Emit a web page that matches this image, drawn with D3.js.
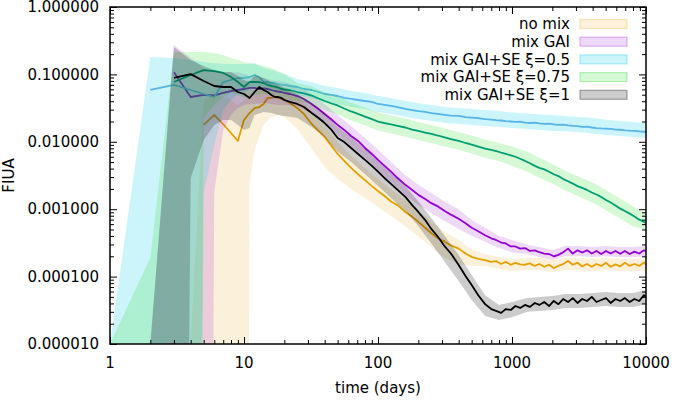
<!DOCTYPE html>
<html>
<head>
<meta charset="utf-8">
<script src="https://cdn.jsdelivr.net/npm/d3@7"></script>
<style>
  body { margin: 0; background: #fff; }
  svg text { font-family: "DejaVu Sans", sans-serif; font-size: 15px; fill: #000; }
</style>
</head>
<body>
<svg id="chart" width="673" height="402"></svg>
<script>
// days of the mean curves
const days = [1,2,3,4,5,6,7,8,9,10,11,12,13,14,15,16,17,18,19,20,
  22,25,28,32,36,40,45,50,56,63,71,80,90,100,112,125,140,160,180,200,225,250,280,315,350,400,450,500,560,630,700,
  760,830,900,980,1060,1150,1250,1360,1480,1600,1740,1890,2050,2220,2410,2620,2840,3080,3340,3630,3940,4270,4630,5030,5450,5920,6420,6960,7550,8200,8900,9650,10000];

const noMix = [null,null,null,null,0.0178,0.025,0.0182,0.0135,0.0103,0.0211,0.0267,0.0317,0.0328,0.0364,0.0447,0.0447,0.0462,0.0447,0.0432,0.0417,
  0.0377,0.0317,0.0259,0.0184,0.0145,0.0118,0.0087,0.0066,0.0052,0.0041,0.0033,0.0027,0.0022,0.00186,0.00157,0.0013,0.00115,0.00091,0.00077,0.00065,0.00053,0.00044,0.00037,0.00033,0.00029,0.00026,0.00022,0.000196,0.000183,0.000176,0.000165,
  0.00017,0.000154,0.000165,0.00015,0.00016,0.000152,0.00015,0.000157,0.000144,0.000154,0.00014,0.00015,0.000134,0.000144,0.000154,0.00017,0.00015,0.00016,0.000142,0.000154,0.00014,0.000154,0.000144,0.00016,0.00014,0.000152,0.000142,0.00016,0.000144,0.000154,0.000144,0.000162,0.00015];

const mixGai = [null,null,0.108,0.0462,0.0495,0.0487,0.053,0.0567,0.0587,0.0607,0.0629,0.0629,0.0607,0.0618,0.0607,0.0587,0.0567,0.0557,0.0548,0.053,
  0.0512,0.0478,0.0432,0.0364,0.0307,0.0259,0.0214,0.0178,0.015,0.0122,0.0103,0.0081,0.0066,0.0054,0.0044,0.0036,0.0029,0.0023,0.00193,0.00163,0.00142,0.00123,0.0011,0.00094,0.00083,0.00072,0.00062,0.00053,0.00047,0.00041,0.00037,
  0.00035,0.00032,0.00031,0.00028,0.00028,0.00026,0.000265,0.00024,0.000245,0.00023,0.00022,0.000216,0.0002,0.00021,0.00023,0.00026,0.00022,0.000245,0.000228,0.000245,0.00022,0.00024,0.000216,0.00024,0.00022,0.00024,0.000218,0.00024,0.000216,0.000235,0.00022,0.000245,0.00024];

const mixSe05 = [null,0.0587,0.0697,0.0587,0.0512,0.0462,0.0771,0.0826,0.0884,0.0884,0.0915,0.098,0.0915,0.0771,0.0771,0.0745,0.0745,0.072,0.0697,0.0697,
  0.0673,0.065,0.0607,0.0587,0.0548,0.0512,0.0495,0.0478,0.0447,0.0432,0.0417,0.0403,0.039,0.0364,0.0352,0.034,0.0328,0.0307,0.0296,0.0286,0.0277,0.0267,0.0259,0.025,0.0245,0.0242,0.0233,0.0229,0.0225,0.0217,0.0214,
  0.021,0.0207,0.0203,0.02,0.0197,0.0199,0.0193,0.019,0.0192,0.0187,0.0184,0.0186,0.0181,0.0178,0.018,0.0175,0.0172,0.0171,0.0166,0.0168,0.0163,0.016,0.0158,0.0157,0.0155,0.0152,0.0151,0.0148,0.0146,0.0145,0.0143,0.0141,0.014];

const mixSe075 = [null,null,0.0771,0.098,0.116,0.112,0.105,0.0915,0.0771,0.065,0.0771,0.0771,0.0771,0.0745,0.0697,0.0673,0.066,0.0638,0.0607,0.0597,
  0.0587,0.0548,0.0521,0.0486,0.0439,0.0403,0.037,0.0346,0.0312,0.0282,0.0259,0.0237,0.0217,0.02,0.019,0.0181,0.0172,0.0163,0.0152,0.0145,0.0137,0.0131,0.0124,0.0116,0.011,0.0103,0.0096,0.0091,0.0085,0.0079,0.0076,
  0.0073,0.0069,0.0066,0.0063,0.006,0.0056,0.0052,0.0048,0.0044,0.0041,0.0039,0.0036,0.0033,0.0031,0.0028,0.0026,0.0024,0.0022,0.00207,0.00193,0.00177,0.00165,0.00152,0.00137,0.00126,0.00113,0.00102,0.00094,0.00086,0.00078,0.0007,0.00065,0.00062];

const mixSe1 = [null,null,0.0885,0.101,0.0798,0.0673,0.065,0.065,0.0548,0.0512,0.0447,0.0548,0.065,0.0587,0.0548,0.0495,0.0462,0.0462,0.0447,0.0417,
  0.039,0.0364,0.0328,0.0267,0.0225,0.019,0.015,0.0114,0.0099,0.0081,0.0066,0.0054,0.0044,0.0036,0.0029,0.00237,0.00193,0.00152,0.00115,0.00091,0.00069,0.00051,0.00039,0.00028,0.00022,0.000149,0.000102,7.5e-5,5.3e-5,3.9e-5,3.3e-5,
  3.1e-5,2.9e-5,3.3e-5,3.2e-5,3.66e-5,3.43e-5,3.8e-5,3.55e-5,4.06e-5,3.8e-5,4.2e-5,3.66e-5,4.35e-5,3.9e-5,4.65e-5,4.2e-5,4.8e-5,4.06e-5,4.65e-5,4.35e-5,5e-5,4.2e-5,4.5e-5,4.8e-5,4.06e-5,4.65e-5,4.35e-5,4.8e-5,4.2e-5,4.65e-5,4.35e-5,5.3e-5,5e-5];

// days of the spread bands (lower / upper), 0 = nothing above zero
const bandDays = [1,2,3,4,5,6,7,8,9,10,11,12,14,16,18,20,25,32,40,50,63,80,100,125,160,200,250,315,400,500,630,800,1000,1300,1600,2000,2500,3200,4000,5000,6300,8000,10000];

const noMixLo = [null,null,null,0,0,0,0,0,0,0,0.0024,0.0076,0.0178,0.0233,0.025,0.0233,0.0155,0.0078,0.0042,0.0028,0.002,0.00147,0.00108,0.00079,0.00056,0.00039,0.000275,0.000188,0.000154,0.000144,0.000144,0.00013,0.000121,0.000125,0.000125,0.000117,0.000125,0.000125,0.000121,0.000125,0.000121,0.000121,0.000121];
const noMixHi = [null,null,null,1e-5,0.0417,0.0495,0.0462,0.0417,0.0352,0.0417,0.0495,0.0548,0.0629,0.0697,0.0697,0.065,0.0478,0.0277,0.0178,0.0099,0.0062,0.0041,0.0028,0.002,0.00137,0.00094,0.00065,0.00046,0.00035,0.00025,0.000216,0.000195,0.000183,0.000188,0.000188,0.000176,0.000188,0.000188,0.000183,0.000188,0.000183,0.000183,0.000183];

const mixGaiLo = [null,0,0,0,0,0.0018,0.015,0.025,0.0317,0.0352,0.0364,0.0364,0.0377,0.0364,0.0352,0.0352,0.034,0.0259,0.0184,0.0126,0.0087,0.0058,0.0038,0.00254,0.00163,0.00115,0.00088,0.00067,0.00051,0.0004,0.00033,0.000266,0.00023,0.000216,0.000195,0.000176,0.0002,0.0002,0.000195,0.0002,0.000195,0.000195,0.0002];
const mixGaiHi = [null,1e-5,0.273,0.175,0.124,0.108,0.108,0.108,0.108,0.101,0.0946,0.0915,0.0885,0.0826,0.0798,0.0771,0.0673,0.0512,0.0364,0.025,0.0172,0.0114,0.0076,0.005,0.0032,0.0023,0.00174,0.0013,0.001,0.00069,0.00053,0.0004,0.00035,0.0003,0.000275,0.000248,0.000285,0.000285,0.000275,0.000285,0.000275,0.000275,0.000285];

const mixSe05Lo = [0,0,0,0,0.0018,0.0089,0.0296,0.0417,0.0512,0.0548,0.0587,0.0629,0.0587,0.0567,0.0548,0.053,0.0495,0.0447,0.039,0.0364,0.0328,0.0307,0.0277,0.0259,0.0233,0.0217,0.0203,0.019,0.0184,0.0178,0.0172,0.0166,0.016,0.0155,0.015,0.0145,0.0143,0.0138,0.0133,0.0126,0.0122,0.0118,0.0114];
const mixSe05Hi = [1e-5,0.181,0.175,0.164,0.153,0.148,0.143,0.143,0.143,0.143,0.143,0.148,0.124,0.116,0.108,0.101,0.0854,0.0771,0.0673,0.0629,0.0567,0.053,0.0478,0.0447,0.0403,0.0377,0.0352,0.0328,0.0317,0.0307,0.0296,0.0286,0.0272,0.0263,0.0254,0.025,0.0242,0.0233,0.0225,0.0214,0.0203,0.0197,0.019];

const mixSe075Lo = [0,0,0,0,0.0225,0.0352,0.0462,0.053,0.0495,0.0447,0.0478,0.0495,0.0512,0.0495,0.0462,0.0432,0.0403,0.0358,0.0296,0.0254,0.0207,0.0174,0.0147,0.0133,0.0119,0.0106,0.0096,0.0085,0.0076,0.0067,0.0058,0.0052,0.0044,0.0036,0.0029,0.0024,0.00189,0.00152,0.00126,0.00097,0.00074,0.00056,0.00049];
const mixSe075Hi = [1e-5,0.00019,0.215,0.215,0.215,0.208,0.194,0.175,0.164,0.153,0.148,0.143,0.133,0.124,0.112,0.101,0.0745,0.0664,0.0548,0.047,0.0384,0.0323,0.0272,0.0245,0.0221,0.0197,0.0178,0.0158,0.014,0.0124,0.0108,0.0096,0.0085,0.0071,0.0058,0.0047,0.0037,0.003,0.0025,0.00193,0.00147,0.0011,0.00088];

const mixSe1Lo = [null,0,0,0.0029,0.0106,0.0178,0.0211,0.0211,0.0178,0.015,0.016,0.025,0.0277,0.0267,0.025,0.0242,0.0225,0.0166,0.0118,0.0071,0.005,0.0033,0.0022,0.00147,0.00094,0.00056,0.00031,0.000165,8.6e-5,4.5e-5,2.6e-5,2.27e-5,2.5e-5,3.0e-5,3.1e-5,3.2e-5,3.43e-5,3.43e-5,3.55e-5,3.66e-5,3.55e-5,3.55e-5,3.9e-5];
const mixSe1Hi = [null,1e-5,0.255,0.164,0.133,0.116,0.109,0.109,0.0945,0.0826,0.0771,0.098,0.0885,0.0771,0.0697,0.0629,0.0512,0.0377,0.0267,0.0166,0.0118,0.0078,0.0052,0.00345,0.0022,0.0013,0.00074,0.0004,0.00021,0.000106,5.3e-5,3.8e-5,4.2e-5,4.8e-5,5e-5,5.15e-5,5.5e-5,5.5e-5,5.7e-5,5.9e-5,5.7e-5,5.7e-5,6.3e-5];

const seriesNames = ["no mix", "mix GAI", "mix GAI+SE ξ=0.5", "mix GAI+SE ξ=0.75", "mix GAI+SE ξ=1"];
const xTicks = [1, 10, 100, 1000, 10000];
const yTicks = [1e-5, 1e-4, 1e-3, 1e-2, 1e-1, 1];

const series = [
  { name: seriesNames[0], mean: noMix,    lo: noMixLo,    hi: noMixHi,    line: "#e69f00", fill: "#e69f00", alpha: 0.14 },
  { name: seriesNames[1], mean: mixGai,   lo: mixGaiLo,   hi: mixGaiHi,   line: "#9400d3", fill: "#9400d3", alpha: 0.15 },
  { name: seriesNames[2], mean: mixSe05,  lo: mixSe05Lo,  hi: mixSe05Hi,  line: "#56b4e9", fill: "#00cdeb", alpha: 0.2 },
  { name: seriesNames[3], mean: mixSe075, lo: mixSe075Lo, hi: mixSe075Hi, line: "#009e73", fill: "#2ddc2d", alpha: 0.2 },
  { name: seriesNames[4], mean: mixSe1,   lo: mixSe1Lo,   hi: mixSe1Hi,   line: "#000000", fill: "#000000", alpha: 0.2 }
];

const width = 673, height = 402;
const margin = { top: 7, right: 27, bottom: 58, left: 110 };
const innerWidth = width - margin.left - margin.right,
  innerHeight = height - margin.top - margin.bottom;

const svg = d3.select("#chart");
const g = svg.append("g").attr("transform", `translate(${margin.left},${margin.top})`);

const xScale = d3.scaleLog().domain([1, 10000]).range([0, innerWidth]);
const yScale = d3.scaleLog().domain([1e-5, 1]).range([innerHeight, 0]);
// zero on a log axis: push far below the frame, the clip cuts it
const yv = v => yScale(Math.max(v, 1e-30));

g.append("clipPath").attr("id", "plotclip")
  .append("rect").attr("width", innerWidth).attr("height", innerHeight);
const plot = g.append("g").attr("clip-path", "url(#plotclip)");

// bands and lines, drawn in legend order
series.forEach(s => {
  const area = d3.area()
    .defined((d, i) => s.hi[i] != null)
    .x(d => xScale(d))
    .y0((d, i) => yv(s.lo[i]))
    .y1((d, i) => yv(s.hi[i]));
  plot.append("path").datum(bandDays).attr("d", area)
    .attr("fill", s.fill).attr("fill-opacity", s.alpha).attr("stroke", "none");

  const line = d3.line()
    .defined((d, i) => s.mean[i] != null)
    .x(d => xScale(d))
    .y((d, i) => yv(s.mean[i]));
  plot.append("path").datum(days).attr("d", line)
    .attr("fill", "none").attr("stroke", s.line).attr("stroke-width", 1.8)
    .attr("stroke-linejoin", "round");
});

// minor ticks on both log axes
const xMinor = [], yMinor = [];
for (let e = 0; e < 4; e++) for (let k = 2; k < 10; k++) xMinor.push(k * Math.pow(10, e));
for (let e = -5; e < 0; e++) for (let k = 2; k < 10; k++) yMinor.push(k * Math.pow(10, e));

function ticksOnly(sel) {
  sel.select(".domain").remove();
  sel.selectAll("text").remove();
  sel.selectAll("line").attr("stroke", "#000");
}

[[xTicks, 7], [xMinor, 4]].forEach(([vals, len]) => {
  g.append("g").attr("transform", `translate(0,${innerHeight})`)
    .call(d3.axisBottom(xScale).tickValues(vals).tickSize(-len)).call(ticksOnly);
  g.append("g")
    .call(d3.axisTop(xScale).tickValues(vals).tickSize(-len)).call(ticksOnly);
});
[[yTicks, 7], [yMinor, 4]].forEach(([vals, len]) => {
  g.append("g")
    .call(d3.axisLeft(yScale).tickValues(vals).tickSize(-len)).call(ticksOnly);
  g.append("g").attr("transform", `translate(${innerWidth},0)`)
    .call(d3.axisRight(yScale).tickValues(vals).tickSize(-len)).call(ticksOnly);
});

// frame
g.append("rect").attr("width", innerWidth).attr("height", innerHeight)
  .attr("fill", "none").attr("stroke", "#000").attr("stroke-width", 1.5);

// tick labels, in page coordinates
const fmtY = d3.format(".6f"), fmtX = d3.format("d");
svg.selectAll(".ylab").data(yTicks).join("text").attr("class", "ylab")
  .attr("x", margin.left - 11).attr("y", d => margin.top + yScale(d)).attr("dy", "0.35em")
  .attr("text-anchor", "end").text(d => fmtY(d));
svg.selectAll(".xlab").data(xTicks).join("text").attr("class", "xlab")
  .attr("x", d => margin.left + xScale(d)).attr("y", margin.top + innerHeight + 24)
  .attr("text-anchor", "middle").text(d => fmtX(d));

// axis titles
svg.append("text").attr("x", margin.left + innerWidth / 2).attr("y", 393)
  .attr("text-anchor", "middle").text("time (days)");
svg.append("text").attr("transform", `translate(14,${margin.top + innerHeight / 2}) rotate(-90)`)
  .attr("text-anchor", "middle").text("FIUA");

// legend
series.forEach((s, i) => {
  const cy = 24 + i * 17.7;
  svg.append("text").attr("x", 570).attr("y", cy).attr("dy", "0.35em")
    .attr("text-anchor", "end").text(s.name);
  svg.append("rect").attr("x", 580).attr("y", cy - 4.5).attr("width", 47).attr("height", 9)
    .attr("fill", s.fill).attr("fill-opacity", s.alpha)
    .attr("stroke", s.fill).attr("stroke-opacity", s.alpha + 0.12).attr("stroke-width", 1.2);
});
</script>
</body>
</html>
